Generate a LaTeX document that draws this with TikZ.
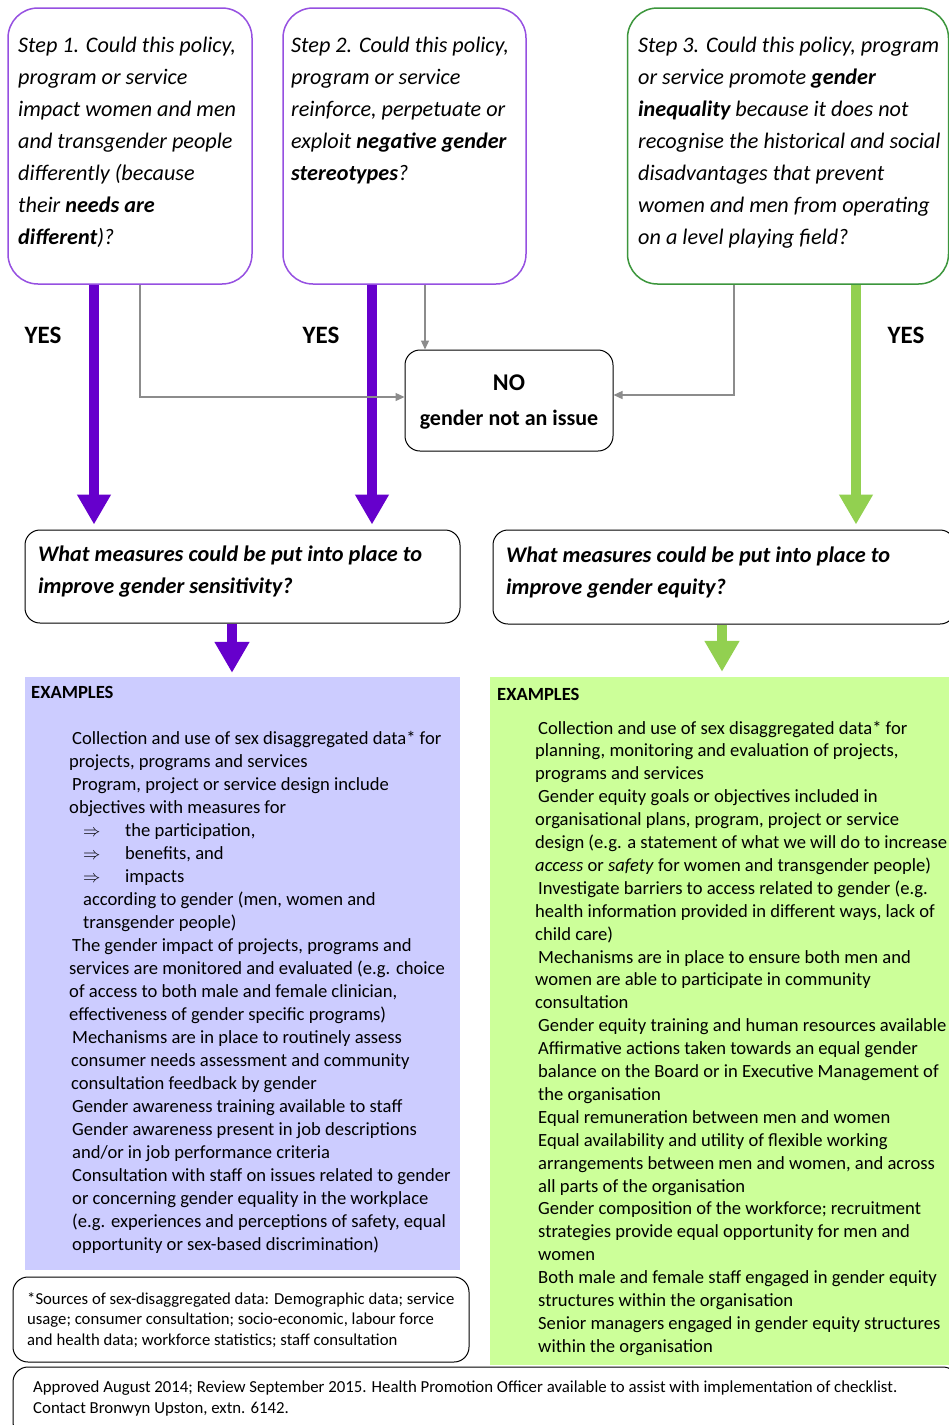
\documentclass[tikz,border=0pt]{standalone}
\usepackage{fontspec}
\setmainfont{Carlito}
\usetikzlibrary{arrows.meta,calc}
\definecolor{purpleline}{RGB}{150,80,225}
\definecolor{purplearrow}{RGB}{102,0,204}
\definecolor{greenline}{RGB}{60,150,60}
\definecolor{greenarrow}{RGB}{146,208,80}
\definecolor{lavender}{RGB}{204,204,255}
\definecolor{lightgreen}{RGB}{204,255,153}
\definecolor{greyline}{RGB}{140,140,140}
\tikzset{
  qbox/.style={draw, rounded corners=30pt, line width=1.5pt, inner sep=0pt},
  rbox/.style={draw=black, rounded corners=15pt, line width=1pt, inner sep=0pt},
  panel/.style={draw=none, inner sep=0pt},
  txt/.style={anchor=base west, align=left, inner sep=0pt},
  steptxt/.style={txt, font=\fontsize{22.2}{32}\selectfont\itshape},
  bodytxt/.style={txt, font=\fontsize{18.6}{23}\selectfont},
  bigarrow/.style={line width=10pt, -{Triangle[width=32pt,length=30pt]}},
  smallarrow/.style={line width=10pt, -{Triangle[width=33pt,length=31pt]}},
  noarrow/.style={draw=greyline, line width=1.3pt, -{Triangle[width=8pt,length=9pt]}},
  yes/.style={font=\fontsize{25}{30}\selectfont\bfseries, inner sep=0pt}
}
\begin{document}
\begin{tikzpicture}[x=1pt,y=-1pt]
\useasboundingbox (0,0) rectangle (949,1425);
\clip (0,0) rectangle (949,1425);
\fill[white] (0,0) rectangle (949,1425);

% panels
\node[panel, fill=lavender, minimum width=435pt, minimum height=593pt] (p1) at (242.5,973.5) {};
\node[panel, fill=lightgreen, minimum width=462pt, minimum height=688pt] (p2) at (721,1021) {};

% question boxes
\node[qbox, draw=purpleline, minimum width=244pt, minimum height=276pt] (s1) at (130,146) {};
\node[qbox, draw=purpleline, minimum width=243pt, minimum height=276pt] (s2) at (404.5,146) {};
\node[qbox, draw=greenline, minimum width=321pt, minimum height=276pt] (s3) at (788,146) {};

% (anchor base = baseline of the last line)
\node[steptxt] (t1) at (18,244) {Step 1. Could this policy,\\program or service\\impact women and men\\and transgender people\\differently (because\\their \textbf{needs are}\\\textbf{different})?};
\node[steptxt] (t2) at (291,180) {Step 2. Could this policy,\\program or service\\reinforce, perpetuate or\\exploit \textbf{negative gender}\\\textbf{stereotypes}?};
\node[steptxt] (t3) at (638,244) {Step 3. Could this policy, program\\or service promote \textbf{gender}\\\textbf{inequality} because it does not\\recognise the historical and social\\disadvantages that prevent\\women and men from operating\\on a level playing field?};

% YES labels
\node[yes] (y1) at (43,335) {YES};
\node[yes] (y2) at (321,335) {YES};
\node[yes] (y3) at (906,335) {YES};

% NO box
\node[rbox, minimum width=208pt, minimum height=101pt] (no) at (509,400.5) {};
\node[inner sep=0pt, font=\fontsize{24}{28}\selectfont\bfseries] (not) at (509,383) {NO};
\node[inner sep=0pt, font=\fontsize{22}{26}\selectfont\bfseries] (nos) at (509,420) {gender not an issue};

% measures boxes
\node[rbox, minimum width=435pt, minimum height=93pt] (m1) at (242.5,576.5) {};
\node[rbox, minimum width=462pt, minimum height=94pt] (m2) at (724,577) {};
\node[txt, font=\fontsize{22.3}{32}\selectfont\bfseries\itshape] (mt1) at (38,593) {What measures could be put into place to\\improve gender sensitivity?};
\node[txt, font=\fontsize{22.3}{32}\selectfont\bfseries\itshape] (mt2) at (506,594) {What measures could be put into place to\\improve gender equity?};

% connectors
\draw[bigarrow, purplearrow, shorten >=5pt] ([xshift=-36pt]s1.south) -- ([xshift=-148.5pt]m1.north);
\draw[bigarrow, purplearrow, shorten >=5pt] ([xshift=-32.5pt]s2.south) -- ([xshift=129.5pt]m1.north);
\draw[bigarrow, greenarrow, shorten >=5pt] ([xshift=68pt]s3.south) -- ([xshift=132pt]m2.north);
\draw[smallarrow, purplearrow, shorten >=4pt] ([xshift=-10.5pt]m1.south) -- ([xshift=-10.5pt]p1.north);
\draw[smallarrow, greenarrow, shorten >=5pt] ([xshift=-2pt]m2.south) -- ([xshift=1pt]p2.north);
\draw[noarrow] ([xshift=10pt]s1.south) |- ([yshift=3.5pt]no.west);
\draw[noarrow] ([xshift=20.5pt]s2.south) -- ([xshift=-84pt]no.north);
\draw[noarrow] ([xshift=-54pt]s3.south) |- ([yshift=5.5pt]no.east);

% examples
\node[txt, font=\fontsize{18.6}{23}\selectfont\bfseries] (e1) at (31,698) {EXAMPLES};
\node[txt, font=\fontsize{18.6}{23}\selectfont\bfseries] (e2) at (497,700) {EXAMPLES};

\node[bodytxt] (l1) at (69,1250) {\hspace*{3pt}Collection and use of sex disaggregated data* for\\
projects, programs and services\\
\hspace*{3pt}Program, project or service design include\\
objectives with measures for\\
\hspace*{14pt}\makebox[42pt][l]{$\Rightarrow$}the participation,\\
\hspace*{14pt}\makebox[42pt][l]{$\Rightarrow$}benefits, and\\
\hspace*{14pt}\makebox[42pt][l]{$\Rightarrow$}impacts\\
\hspace*{14pt}according to gender (men, women and\\
\hspace*{14pt}transgender people)\\
\hspace*{3pt}The gender impact of projects, programs and\\
services are monitored and evaluated (e.g. choice\\
of access to both male and female clinician,\\
effectiveness of gender specific programs)\\
\hspace*{3pt}Mechanisms are in place to routinely assess\\
\hspace*{2pt}consumer needs assessment and community\\
\hspace*{2pt}consultation feedback by gender\\
\hspace*{3pt}Gender awareness training available to staff\\
\hspace*{3pt}Gender awareness present in job descriptions\\
\hspace*{3pt}and/or in job performance criteria\\
\hspace*{3pt}Consultation with staff on issues related to gender\\
\hspace*{3pt}or concerning gender equality in the workplace\\
\hspace*{3pt}(e.g. experiences and perceptions of safety, equal\\
\hspace*{3pt}opportunity or sex-based discrimination)};

\node[txt, font=\fontsize{18.6}{22.9}\selectfont] (r1) at (535,1352.3) {\hspace*{3pt}Collection and use of sex disaggregated data* for\\
planning, monitoring and evaluation of projects,\\
programs and services\\
\hspace*{3pt}Gender equity goals or objectives included in\\
organisational plans, program, project or service\\
design (e.g. a statement of what we will do to increase\\
\textit{access} or \textit{safety} for women and transgender people)\\
\hspace*{3pt}Investigate barriers to access related to gender (e.g.\\
health information provided in different ways, lack of\\
child care)\\
\hspace*{3pt}Mechanisms are in place to ensure both men and\\
women are able to participate in community\\
consultation\\
\hspace*{3pt}Gender equity training and human resources available\\
\hspace*{3pt}Affirmative actions taken towards an equal gender\\
\hspace*{3pt}balance on the Board or in Executive Management of\\
\hspace*{3pt}the organisation\\
\hspace*{3pt}Equal remuneration between men and women\\
\hspace*{3pt}Equal availability and utility of flexible working\\
\hspace*{3pt}arrangements between men and women, and across\\
\hspace*{3pt}all parts of the organisation\\
\hspace*{3pt}Gender composition of the workforce; recruitment\\
\hspace*{3pt}strategies provide equal opportunity for men and\\
\hspace*{3pt}women\\
\hspace*{3pt}Both male and female staff engaged in gender equity\\
\hspace*{3pt}structures within the organisation\\
\hspace*{3pt}Senior managers engaged in gender equity structures\\
\hspace*{3pt}within the organisation};

% footnote box
\node[rbox, minimum width=456pt, minimum height=85pt] (fn) at (241,1319.5) {};
\node[txt, font=\fontsize{16.7}{20.5}\selectfont] (fnt) at (27,1345) {*Sources of sex-disaggregated data: Demographic data; service\\usage; consumer consultation; socio-economic, labour force\\and health data; workforce statistics; staff consultation};

% bottom box
\node[rbox, minimum width=945pt, minimum height=70pt] (bt) at (485.5,1402) {};
\node[txt, font=\fontsize{16.8}{21}\selectfont] (btt) at (33,1413) {Approved August 2014; Review September 2015. Health Promotion Officer available to assist with implementation of checklist.\\Contact Bronwyn Upston, extn. 6142.};
\end{tikzpicture}
\end{document}
